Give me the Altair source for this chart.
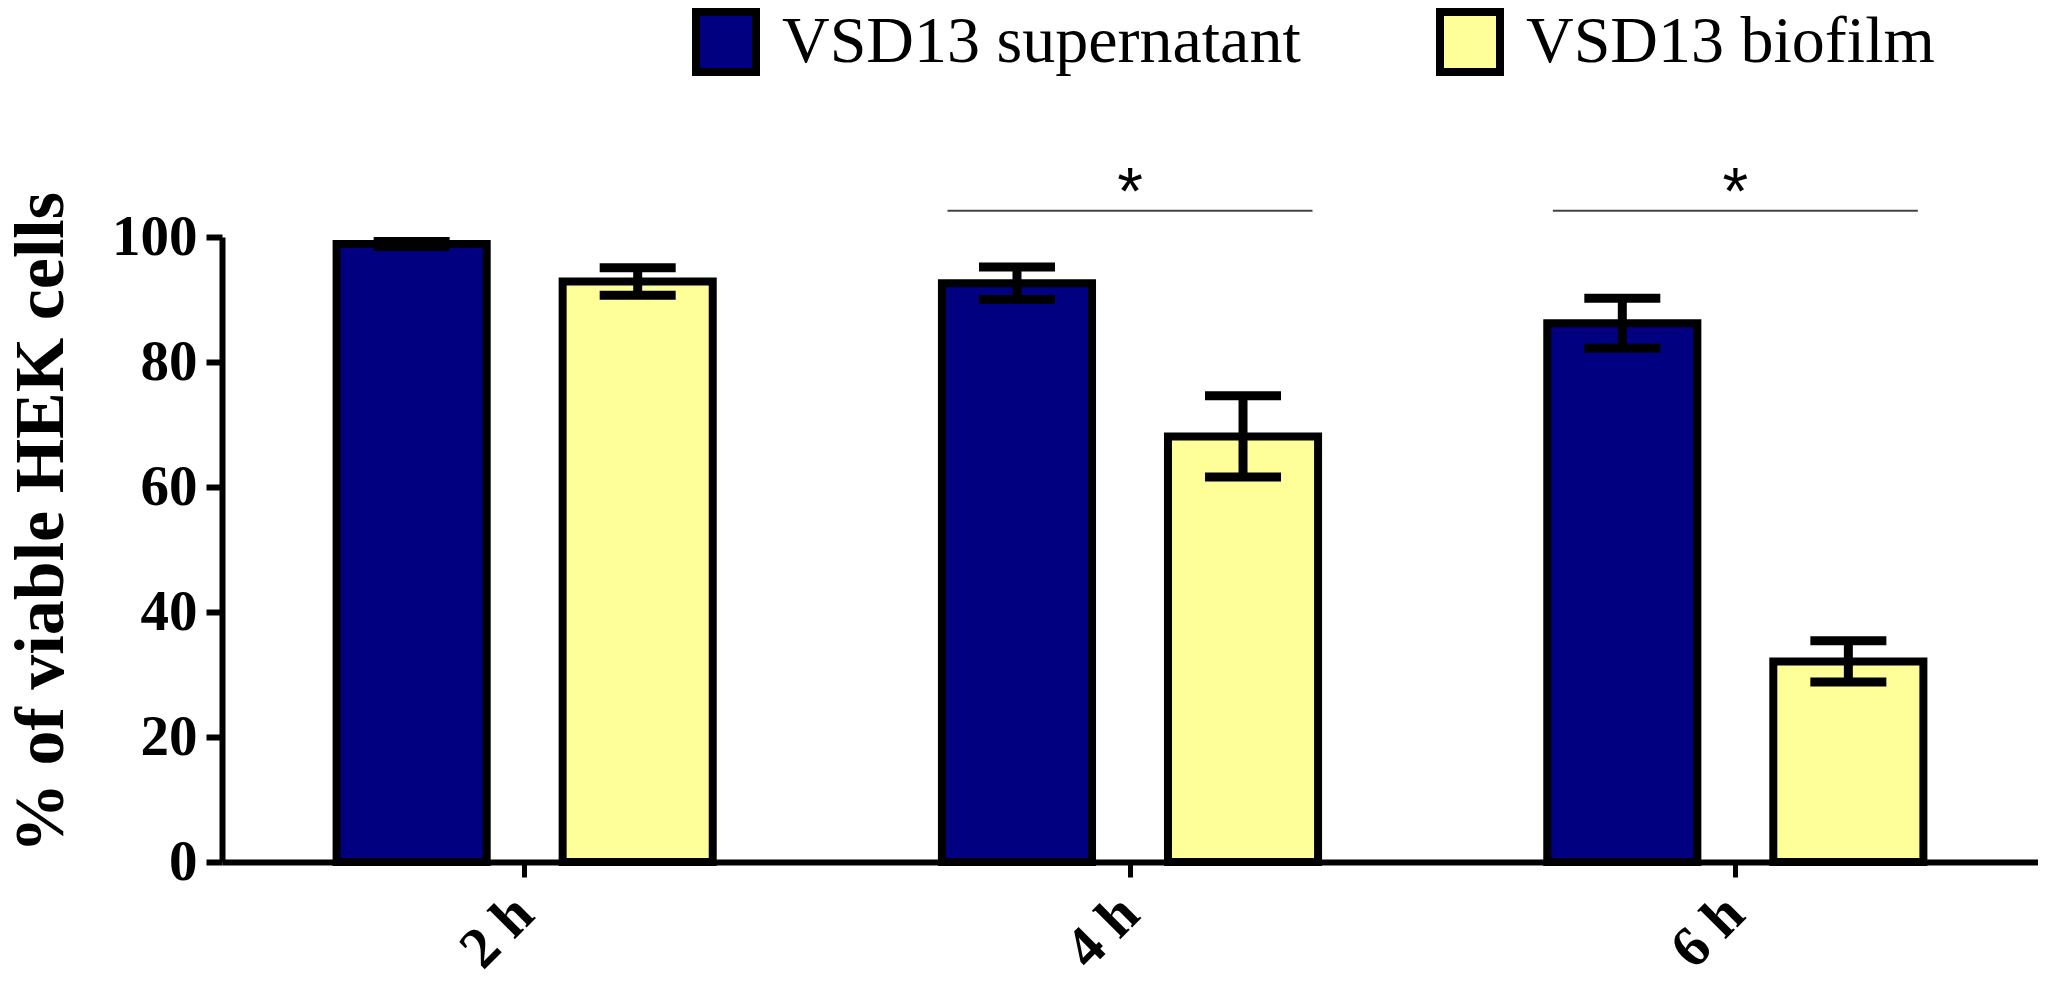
import altair as alt
import pandas as pd

times = ["2 h", "4 h", "6 h"]
series = ["VSD13 supernatant", "VSD13 biofilm"]
supernatant_mean = [98.9, 92.6, 86.2]
supernatant_err = [0.4, 2.6, 4.0]
biofilm_mean = [92.9, 68.1, 32.1]
biofilm_err = [2.2, 6.5, 3.3]
sig_times = ["4 h", "6 h"]
sig_level = [104.2, 104.2]
sig_text = ["*", "*"]
y_ticks = [0, 20, 40, 60, 80, 100]
colors = ["#000080", "#FFFF99"]

rows = []
for s, means, errs in [(series[0], supernatant_mean, supernatant_err),
                       (series[1], biofilm_mean, biofilm_err)]:
    for t, m, e in zip(times, means, errs):
        rows.append({"time": t, "series": s, "mean": m, "lo": m - e, "hi": m + e})
df = pd.DataFrame(rows)
sig = pd.DataFrame({"time": sig_times, "y": sig_level, "label": sig_text})

SERIF = "Liberation Serif"
xscale = alt.Scale(domain=times, paddingInner=0, paddingOuter=0)
xaxis = alt.Axis(title=None, labelAngle=-45, labelAlign="right", labelBaseline="middle",
                 labelFont=SERIF, labelFontSize=58, labelFontWeight="bold", labelColor="black",
                 labelPadding=28, tickSize=15, tickWidth=5, tickColor="black",
                 domainColor="black", domainWidth=6, grid=False)
yscale = alt.Scale(domain=[0, 100], nice=False, zero=True)
yaxis = alt.Axis(title="% of viable HEK cells", values=y_ticks, grid=False,
                 labelFont=SERIF, labelFontSize=57, labelFontWeight="bold", labelColor="black",
                 labelPadding=9, tickSize=16, tickWidth=6, tickColor="black",
                 domainColor="black", domainWidth=6,
                 titleFont=SERIF, titleFontSize=70, titleFontWeight="bold", titleColor="black",
                 titleAngle=270, titleX=-181, titleY=285, titleAlign="center",
                 titleBaseline="middle")


def xe():
    return alt.X("time:N", scale=xscale, axis=xaxis, title=None)


def ye(field):
    return alt.Y(field, scale=yscale, axis=yaxis, title="% of viable HEK cells")


xoff = alt.XOffset("series:N", scale=alt.Scale(domain=series, paddingInner=0.336, paddingOuter=0.507))

color = alt.Color("series:N", scale=alt.Scale(domain=series, range=colors),
                  legend=alt.Legend(title=None, orient="none", legendX=470, legendY=-229,
                                    direction="horizontal", symbolType="square", symbolSize=3600,
                                    symbolStrokeColor="black", symbolStrokeWidth=8,
                                    symbolOpacity=1, labelFont=SERIF, labelFontSize=66,
                                    labelColor="black", labelOffset=22, columnPadding=123,
                                    labelLimit=1000, padding=0))

bars = alt.Chart(df).mark_bar(stroke="black", strokeWidth=8, opacity=1).encode(
    x=xe(), xOffset=xoff, y=ye("mean:Q"), color=color)

err = alt.Chart(df).mark_rule(color="black", strokeWidth=9, opacity=1).encode(
    x=xe(), xOffset=xoff, y=ye("lo:Q"), y2="hi:Q")

cap_hi = alt.Chart(df).mark_tick(color="black", size=76, thickness=9, opacity=1,
                                 orient="horizontal").encode(
    x=xe(), xOffset=xoff, y=ye("hi:Q"))

cap_lo = alt.Chart(df).mark_tick(color="black", size=76, thickness=9, opacity=1,
                                 orient="horizontal").encode(
    x=xe(), xOffset=xoff, y=ye("lo:Q"))

sig_line = alt.Chart(sig).mark_tick(color="#444444", size=365, thickness=2, opacity=1,
                                    orient="horizontal").encode(
    x=xe(), y=ye("y:Q"))

sig_star = alt.Chart(sig).mark_text(font="Liberation Sans", fontSize=66, color="black",
                                    baseline="alphabetic", align="center", dy=3).encode(
    x=xe(), y=ye("y:Q"), text="label:N")

chart = alt.layer(bars, err, cap_hi, cap_lo, sig_line, sig_star).properties(
    width=1816, height=625,
    padding={"left": 214, "top": 229, "right": 0, "bottom": 120},
    autosize=alt.AutoSizeParams(type="none"),
).configure_view(stroke=None)

chart.save("out.html", embed_options={"renderer": "svg", "actions": False})
